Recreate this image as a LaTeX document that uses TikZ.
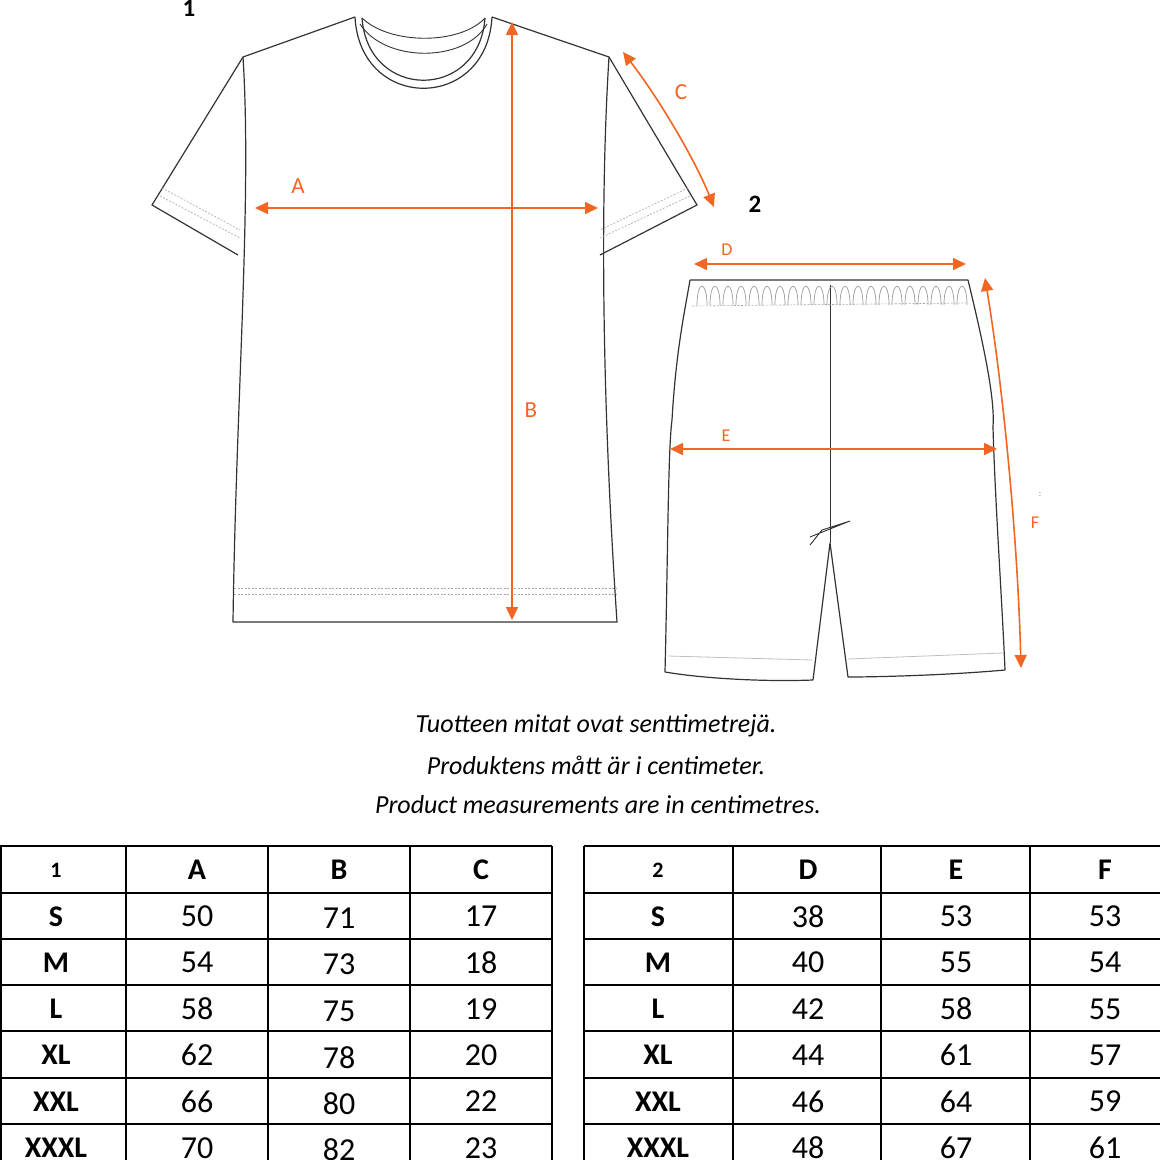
\documentclass[tikz,border=0pt]{standalone}
\usepackage{fontspec}
\setmainfont{Carlito}
\usetikzlibrary{arrows.meta}
\definecolor{measorange}{HTML}{F26522}

\begin{document}
\begin{tikzpicture}[
    x=1pt, y=-1pt,
    % Style definitions
    garment/.style={draw=black!80, line width=1.2pt, line join=round},
    seam/.style={draw=gray!70, line width=0.6pt, dash pattern=on 2pt off 1.5pt},
    meas/.style={draw=measorange, line width=1.6pt, {Triangle[length=13pt,width=12pt]}-{Triangle[length=13pt,width=12pt]}},
    measlabel/.style={text=measorange, font=\fontsize{23}{23}\selectfont},
    smalllabel/.style={text=measorange, font=\fontsize{18}{18}\selectfont},
    tag/.style={font=\bfseries\fontsize{25}{25}\selectfont},
    caption/.style={font=\itshape\fontsize{26}{26}\selectfont},
    gridline/.style={draw=black, line width=1.8pt},
    headcell/.style={font=\bfseries\fontsize{30}{30}\selectfont},
    sizecell/.style={font=\bfseries\fontsize{30}{30}\selectfont},
    numcell/.style={font=\fontsize{32}{32}\selectfont},
]
\useasboundingbox (0,0) rectangle (1160,1160);

%% ---------- T-SHIRT ----------
\draw[garment] (355,17) -- (243,57) -- (152,205) -- (238,255);
\draw[garment] (492,17) -- (609,57) -- (697,205) -- (600,255);
\draw[garment] (243,57) .. controls (252,200) and (236,400) .. (233,622) -- (617,622)
    .. controls (602,400) and (600,200) .. (609,57);
\draw[garment] (355,17) .. controls (360,112) and (487,112) .. (492,17);
\draw[garment] (362,18) .. controls (368,101) and (479,101) .. (485,18);
\draw[garment, line width=0.9pt] (362,18) .. controls (390,45) and (460,45) .. (485,18);
\draw[garment, line width=0.9pt] (360,24) .. controls (385,63) and (465,63) .. (487,24);
\draw[seam] (162,188) -- (240,230);
\draw[seam] (160,196) -- (240,238);
\draw[seam] (688,188) -- (600,230);
\draw[seam] (690,196) -- (600,238);
\draw[seam] (234,588) -- (616,588);
\draw[seam] (234,594) -- (616,594);

%% ---------- SHORTS ----------
\draw[garment] (690,280) -- (968,280)
    .. controls (985,350) and (995,400) .. (993,427)
    .. controls (995,500) and (1002,600) .. (1005,670)
    .. controls (950,675) and (880,677) .. (848,677) -- (830,543) -- (813,680)
    .. controls (760,682) and (700,678) .. (665,672)
    .. controls (668,550) and (668,450) .. (672,420)
    .. controls (676,350) and (685,310) .. (690,280);
\draw[garment, line width=0.9pt] (830,285) -- (830,543);
\draw[garment, line width=0.9pt] (810,537) -- (850,521) -- (822,530) -- (810,545);
\foreach \x in {697,710,...,957}
    \draw[gray!80, line width=0.7pt] (\x,305) .. controls (\x,280) and (\x+10,280) .. (\x+10,305);
\draw[seam] (692,306) -- (966,303);
\draw[draw=gray!50, line width=0.8pt] (668,656) -- (812,660);
\draw[draw=gray!50, line width=0.8pt] (848,659) -- (1003,653);

%% ---------- MEASUREMENTS ----------
\draw[meas] (255,208) -- (598,208);
\node[measlabel] (lblA) at (298,186) {A};
\draw[meas] (512,22) -- (512,620);
\node[measlabel] (lblB) at (531,410) {B};
\draw[meas] (623,52) .. controls (660,100) and (695,160) .. (714,207);
\node[measlabel] (lblC) at (681,92) {C};
\draw[meas] (694,264) -- (966,264);
\node[smalllabel] (lblD) at (727,250) {D};
\draw[meas] (670,449) -- (997,449);
\node[smalllabel] (lblE) at (726,436) {E};
\draw[meas] (985,278) .. controls (1005,400) and (1018,550) .. (1021,668);
\node[smalllabel] (lblF) at (1035,523) {F};
\node[font=\fontsize{9}{9}\selectfont, gray] (dots) at (1040,495) {:};

\node[tag] (tag1) at (189,8) {1};
\node[tag] (tag2) at (755,204) {2};

%% ---------- CAPTION ----------
\node[caption] (cap1) at (596,726) {Tuotteen mitat ovat senttimetrejä.};
\node[caption] (cap2) at (596,765) {Produktens mått är i centimeter.};
\node[caption] (cap3) at (598,805) {Product measurements are in centimetres.};

%% ---------- TABLES ----------
\foreach \y in {846,893,939,985,1031,1078,1124} {
    \draw[gridline] (0,\y) -- (552,\y);
    \draw[gridline] (584,\y) -- (1160,\y);
}
\foreach \x in {1,126,268,410,552}
    \draw[gridline] (\x,846) -- (\x,1160);
\foreach \x in {584,733,881,1030}
    \draw[gridline] (\x,846) -- (\x,1160);

\node[headcell, font=\bfseries\fontsize{22}{22}\selectfont] (h1) at (56,870) {1};
\node[headcell] (hA) at (197,870) {A};
\node[headcell] (hB) at (339,870) {B};
\node[headcell] (hC) at (481,870) {C};
\node[headcell, font=\bfseries\fontsize{22}{22}\selectfont] (h2) at (658,870) {2};
\node[headcell] (hD) at (808,870) {D};
\node[headcell] (hE) at (956,870) {E};
\node[headcell] (hF) at (1105,870) {F};

\foreach \sz/\a/\b/\c/\d/\e/\f [count=\i] in
    {S/50/71/17/38/53/53, M/54/73/18/40/55/54, L/58/75/19/42/58/55,
     XL/62/78/20/44/61/57, XXL/66/80/22/46/64/59, XXXL/70/82/23/48/67/61} {
    \pgfmathsetmacro{\ry}{870+46.3*\i}
    \node[sizecell] at (56,\ry) {\sz};
    \node[numcell] at (197,\ry) {\a};
    \node[numcell] at (339,\ry+2) {\b};
    \node[numcell] at (481,\ry) {\c};
    \node[sizecell] at (658,\ry) {\sz};
    \node[numcell] at (808,\ry) {\d};
    \node[numcell] at (956,\ry) {\e};
    \node[numcell] at (1105,\ry) {\f};
}
\end{tikzpicture}
\end{document}
